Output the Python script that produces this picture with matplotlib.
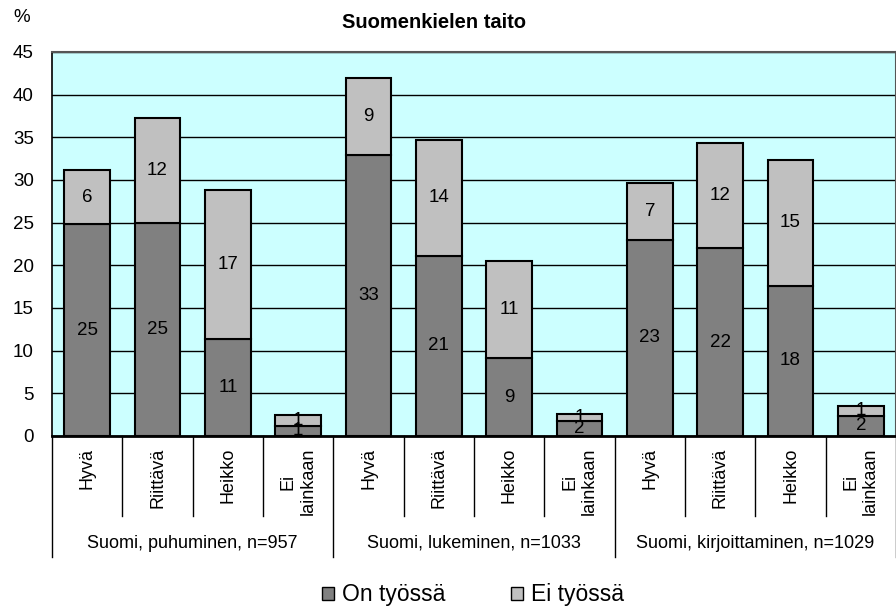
import numpy as np
import matplotlib.pyplot as plt
from matplotlib.patches import Patch

plt.rcParams['font.family'] = ['Liberation Sans', 'DejaVu Sans']

kategoriat = ["Hyvä", "Riittävä", "Heikko", "Ei\nlainkaan"] * 3
ryhmat = ["Suomi, puhuminen, n=957", "Suomi, lukeminen, n=1033",
          "Suomi, kirjoittaminen, n=1029"]

# On työssä / Ei työssä (%)
on_tyossa = [24.8, 25.0, 11.4, 1.2,
             32.9, 21.1, 9.1, 1.8,
             23.0, 22.0, 17.6, 2.4]
ei_tyossa = [6.4, 12.3, 17.4, 1.3,
             9.1, 13.6, 11.4, 0.8,
             6.7, 12.3, 14.8, 1.1]

vari_on = "#808080"
vari_ei = "#C0C0C0"

fig = plt.figure(figsize=(8.96, 6.09), dpi=100)
ax = fig.add_axes([52 / 896, 1 - 436 / 609, 1 - 52 / 896, 384 / 609])
ax.set_facecolor("#CCFFFF")

x = np.arange(len(kategoriat))
b1 = ax.bar(x, on_tyossa, 0.65, color=vari_on, edgecolor="black",
            linewidth=1.5, zorder=3)
b2 = ax.bar(x, ei_tyossa, 0.65, bottom=on_tyossa, color=vari_ei,
            edgecolor="black", linewidth=1.5, zorder=3)
# pienet osat menevät päällekkäin kuten alkuperäisessä
ax.bar_label(b1, fmt="%.0f", label_type="center", fontsize=13.5, zorder=4)
ax.bar_label(b2, fmt="%.0f", label_type="center", fontsize=13.5, zorder=4)

ax.set_xlim(-0.5, len(kategoriat) - 0.5)
ax.set_ylim(0, 45)
ax.set_yticks(range(0, 46, 5))
ax.yaxis.grid(True, color="black", linewidth=1)
ax.set_axisbelow(True)
ax.tick_params(axis="y", length=0, pad=13, labelsize=13.5)
ax.set_xticks([])

for s in ["top", "right"]:
    ax.spines[s].set_color("#555555")
    ax.spines[s].set_linewidth(1.5)
ax.spines["left"].set_linewidth(1.2)
ax.spines["bottom"].set_linewidth(2)

trans = ax.get_xaxis_transform()
for i, nimi in enumerate(kategoriat):
    ax.text(i, -0.031, nimi, transform=trans, rotation=90, ha="center",
            va="top", multialignment="center", fontsize=13)
for i in range(len(kategoriat) + 1):
    alas = -0.315 if i % 4 == 0 else -0.208
    ax.plot([i - 0.5, i - 0.5], [0, alas], transform=trans, color="black",
            linewidth=1, clip_on=False)
for g, nimi in enumerate(ryhmat):
    ax.text(g * 4 + 1.5, -0.279, nimi, transform=trans, ha="center",
            va="center", fontsize=13)

fig.text(434 / 896, 1 - 23 / 609, "Suomenkielen taito", ha="center",
         va="center", fontsize=14.5, fontweight="bold")
fig.text(13 / 896, 1 - 17 / 609, "%", ha="left", va="center", fontsize=13.5)

kahvat = [Patch(facecolor=vari_on, edgecolor="black"),
          Patch(facecolor=vari_ei, edgecolor="black")]
fig.legend(kahvat, ["On työssä", "Ei työssä"], loc="center",
           bbox_to_anchor=(473 / 896, 1 - 595 / 609), ncol=2, frameon=False,
           fontsize=16.5, handlelength=0.5, handleheight=0.5,
           handletextpad=0.35, columnspacing=2.9)

fig.savefig("out.png", dpi=100)
